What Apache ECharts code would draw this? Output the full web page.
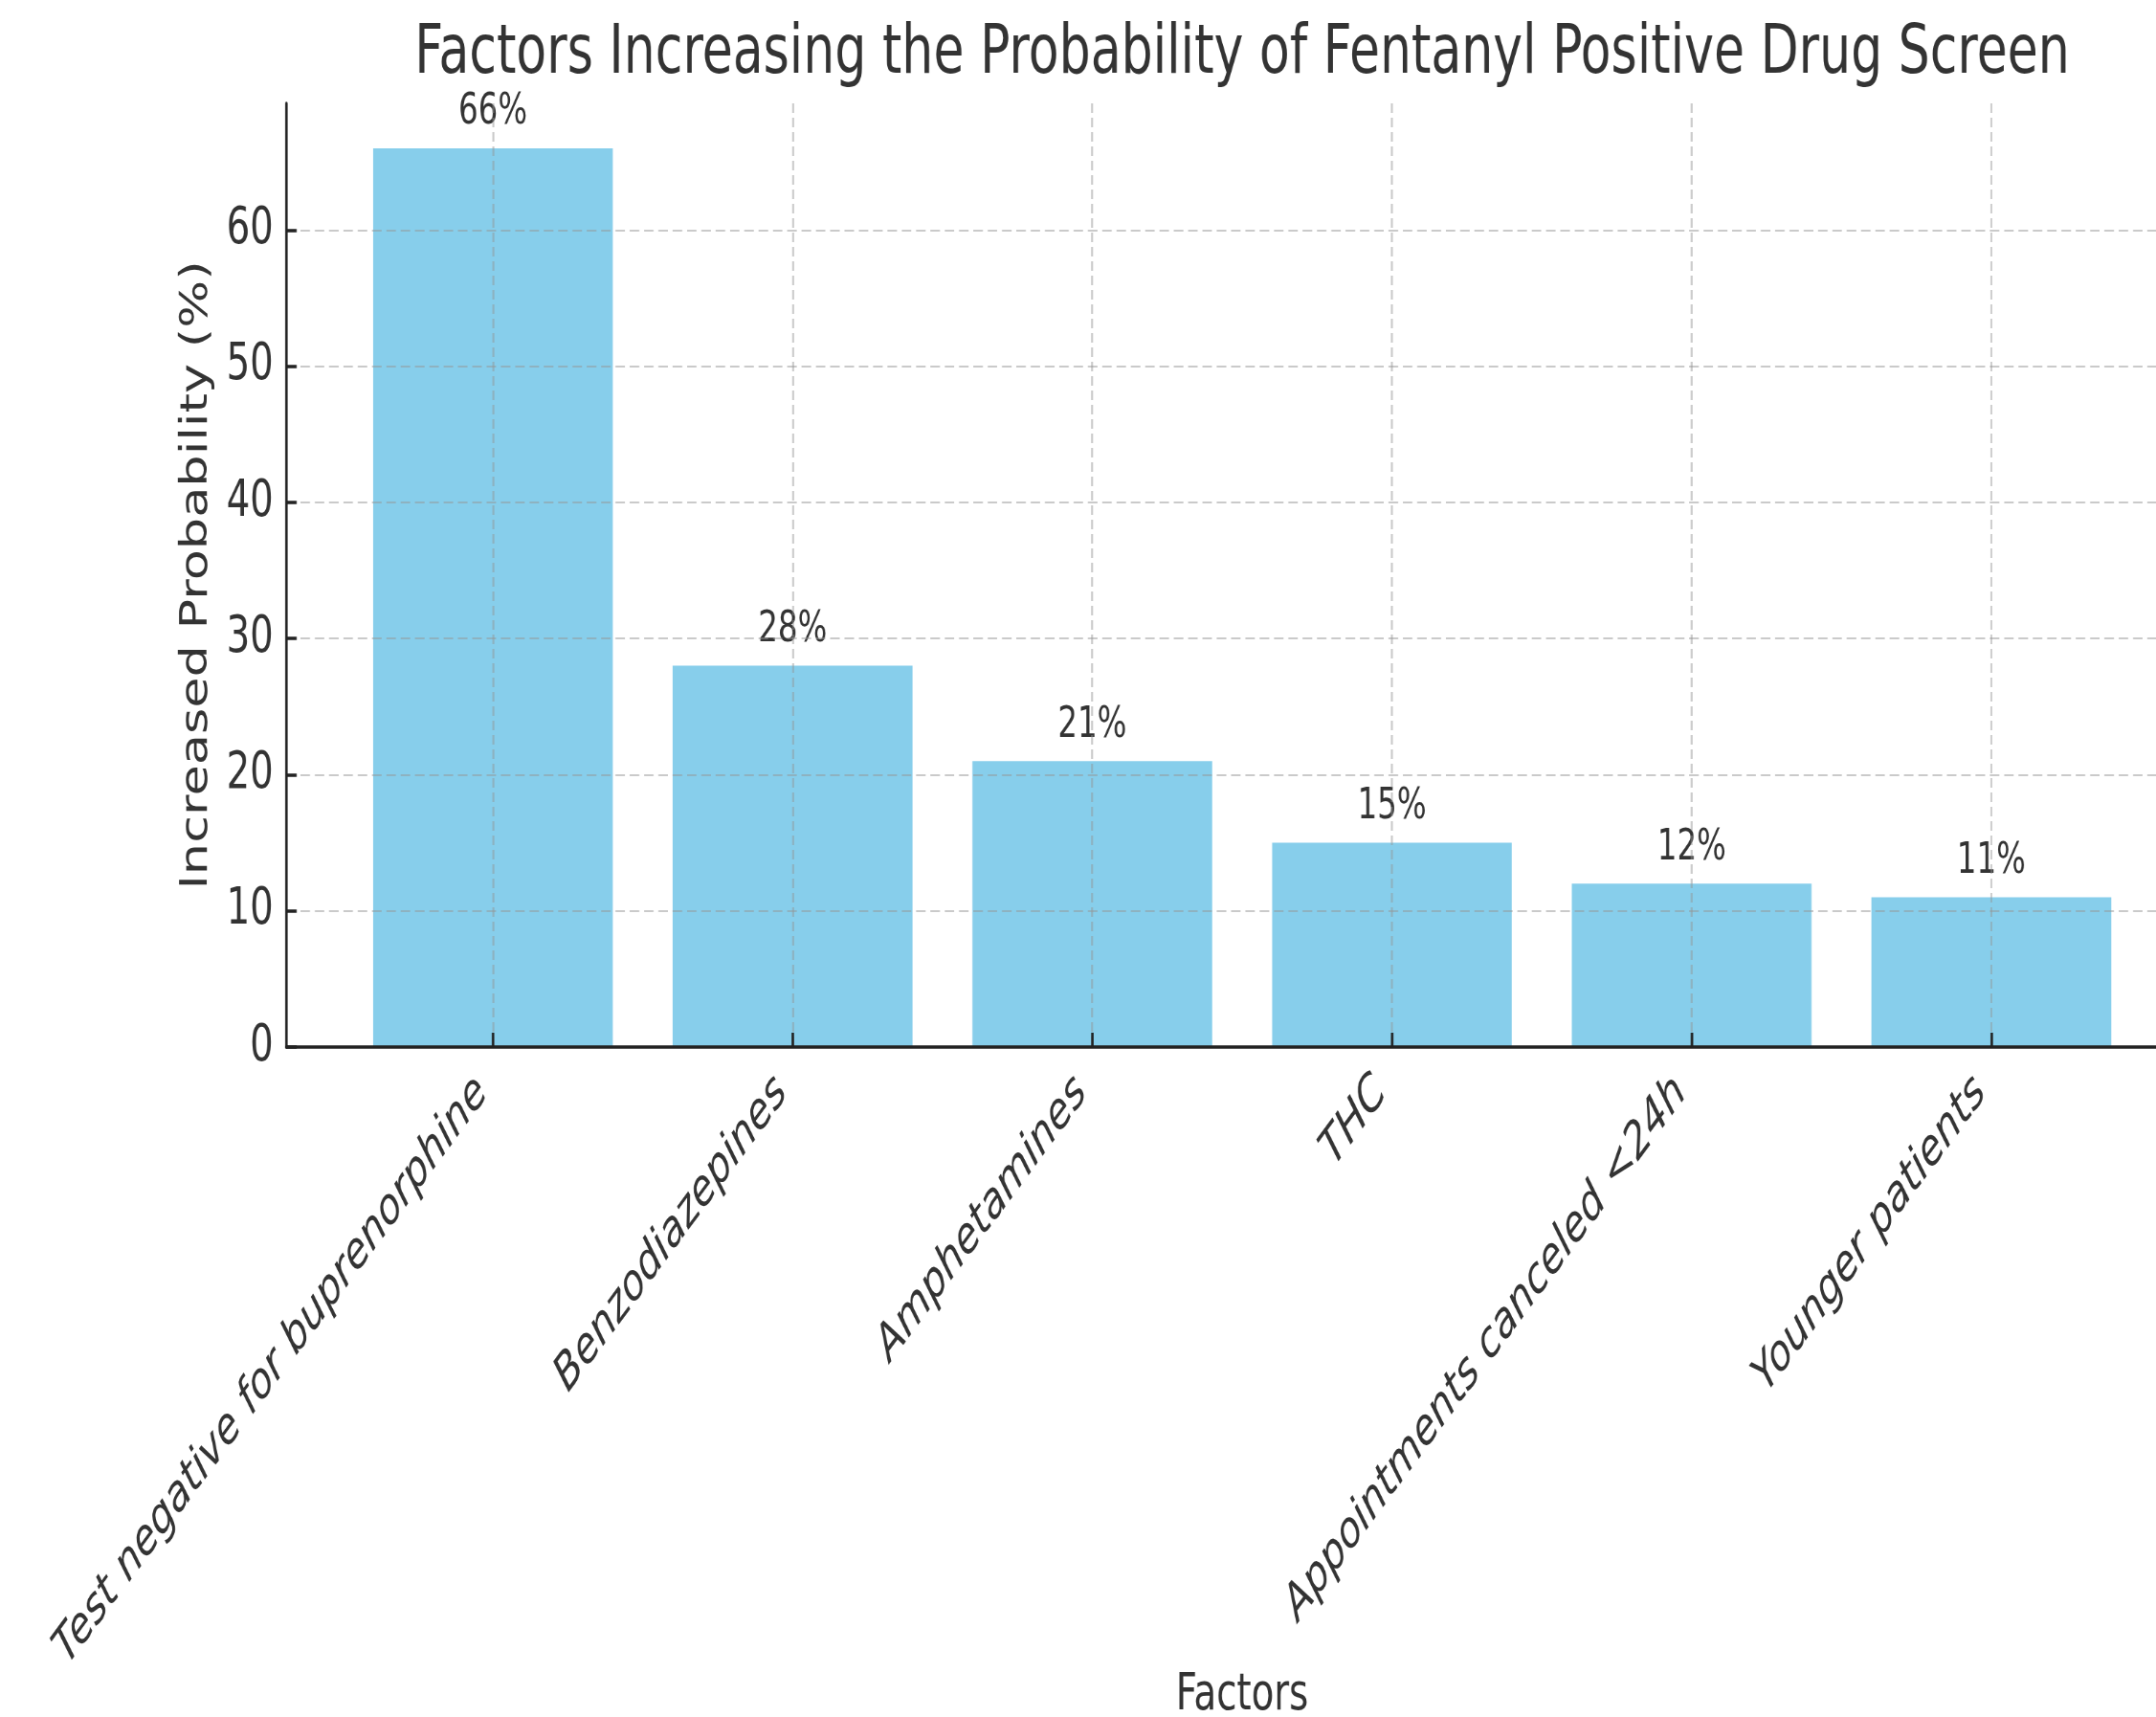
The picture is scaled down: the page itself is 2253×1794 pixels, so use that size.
<!DOCTYPE html>
<html>
<head>
<meta charset="utf-8">
<script src="https://cdn.jsdelivr.net/npm/echarts@6/dist/echarts.min.js"></script>
<style>
  html, body { margin: 0; padding: 0; background: #fff; overflow: hidden; }
  #wrap { width: 2253px; height: 1794px; overflow: hidden; position: relative; }
  #chart { position: absolute; left: 0; top: 0; height: 1794px; transform-origin: 0 0; }
</style>
</head>
<body>
<div id="wrap"><div id="chart"></div></div>
<script>
// ---- data ----
const categories = [
  'Test negative for buprenorphine',
  'Benzodiazepines',
  'Amphetamines',
  'THC',
  'Appointments canceled <24h',
  'Younger patients'
];
const values = [66, 28, 21, 15, 12, 11];
const yTicks = [0, 10, 20, 30, 40, 50, 60];
const titleText = 'Factors Increasing the Probability of Fentanyl Positive Drug Screen';
const xName = 'Factors';
const yName = 'Increased Probability (%)';

// ---- layout (reference is horizontally compressed) ----
const K = 0.737;
const VW = Math.round(2253 / K);
const el = document.getElementById('chart');
el.style.width = VW + 'px';
el.style.transform = 'scaleX(' + K + ')';

const FONT = 'DejaVu Sans';
const TXT = '#333333';
const LINE = '#222222';

const xPositions = categories.map((c, i) => i);
const seriesData = values.map((v, i) => [i, v]);

const gridLeft = 299 / K;
const gridWidth = (2297 - 299) / K;

const chart = echarts.init(el, null, { renderer: 'canvas', devicePixelRatio: 1 });
chart.setOption({
  animation: false,
  backgroundColor: '#ffffff',
  title: {
    text: titleText,
    left: 1298 / K,
    top: 22,
    padding: 0,
    textAlign: 'center',
    textStyle: { fontFamily: FONT, fontSize: 70.7, fontWeight: 'normal', color: TXT }
  },
  grid: {
    left: gridLeft, top: 108, width: gridWidth, height: 986,
    containLabel: false, outerBoundsMode: 'none'
  },
  xAxis: {
    type: 'value',
    min: -0.69,
    max: 5.69,
    z: 5,
    name: xName,
    nameLocation: 'middle',
    nameGap: 652,
    nameMoveOverlap: false,
    nameTextStyle: { fontFamily: FONT, fontSize: 52.5, color: TXT },
    axisLine: { show: true, onZero: false, lineStyle: { color: LINE, width: 3.5 } },
    axisTick: { show: true, inside: true, length: 15, customValues: xPositions,
      lineStyle: { color: LINE, width: 3.5 } },
    axisLabel: {
      customValues: xPositions,
      rotate: 45,
      margin: 24,
      padding: [0, 22, 44, 0],
      fontFamily: FONT, fontStyle: 'italic', fontSize: 52.5, color: TXT,
      formatter: function (v) { return categories[Math.round(v)]; }
    },
    splitLine: { show: true, lineStyle: { color: 'rgba(150,150,150,0.5)', width: 2.7, type: [10, 5] } }
  },
  yAxis: {
    type: 'value',
    min: 0,
    max: 69.3,
    z: 5,
    name: yName,
    nameLocation: 'middle',
    nameGap: 100,
    nameMoveOverlap: false,
    nameTextStyle: { fontFamily: FONT, fontSize: 52.5, color: TXT },
    axisLine: { show: true, onZero: false, lineStyle: { color: LINE, width: 3.5 } },
    axisTick: { show: true, inside: true, length: 15, customValues: yTicks,
      lineStyle: { color: LINE, width: 3.5 } },
    axisLabel: {
      customValues: yTicks,
      margin: 18,
      fontFamily: FONT, fontSize: 52.5, color: TXT
    },
    splitLine: { show: true, lineStyle: { color: 'rgba(150,150,150,0.5)', width: 2, type: [13.5, 6.8] } }
  },
  series: [{
    type: 'bar',
    data: seriesData,
    barWidth: '80%',
    z: 2,
    itemStyle: { color: '#87CEEB' },
    label: {
      show: true,
      position: 'top',
      distance: 15,
      fontFamily: FONT, fontSize: 44, color: TXT,
      formatter: function (p) { return p.value[1] + '%'; }
    }
  }]
});
</script>
</body>
</html>
